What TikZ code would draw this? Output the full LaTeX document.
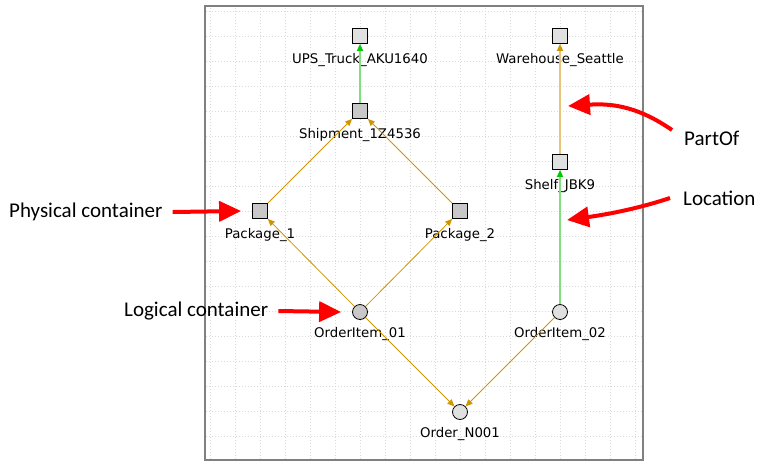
\documentclass[tikz,border=0pt]{standalone}
\usepackage{fontspec}
\setmainfont{DejaVu Sans}
\newfontfamily\notefont{Carlito}
\usetikzlibrary{arrows.meta}

\definecolor{partgold}{RGB}{205,150,0}
\definecolor{partlight}{RGB}{232,196,120}
\definecolor{locline}{RGB}{128,224,128}
\definecolor{loctip}{RGB}{0,200,0}
\definecolor{boxdark}{RGB}{200,200,200}
\definecolor{boxlight}{RGB}{224,224,224}
\definecolor{gridgray}{RGB}{218,218,218}
\definecolor{framegray}{RGB}{128,128,128}

\begin{document}
\begin{tikzpicture}[x=1pt,y=-1pt,
  lbl/.style={font=\fontsize{13.3}{15}\selectfont, inner sep=0pt, anchor=base, yshift=-20pt},
  dotlbl/.style={font=\fontsize{13.3}{15}\selectfont, inner sep=0pt, anchor=base, yshift=-18pt},
  box/.style={draw=black, line width=0.8pt, minimum size=15pt, inner sep=0pt},
  dot/.style={circle, draw=black, line width=0.8pt, minimum size=15pt, inner sep=0pt},
  partof/.style={draw=partgold, line width=0.8pt, -{Triangle[length=7pt,width=6pt,color=partgold]}},
  partofthick/.style={draw=partlight, line width=2pt, -{Triangle[length=7pt,width=6pt,color=partgold]}},
  loc/.style={draw=locline, line width=2pt, -{Triangle[length=7pt,width=6pt,color=loctip]}},
  note/.style={font=\notefont\fontsize{21}{25}\selectfont, inner sep=0pt, anchor=west},
  redarr/.style={draw=red, line width=4pt, -{Triangle[length=22pt,width=20pt]}}]

  \useasboundingbox (0,0) rectangle (773,475);

  % Grid
  \foreach \gx in {210,235,...,635} {
    \draw[gridgray, line width=1pt, dash pattern=on 1pt off 2pt] (\gx,8) -- (\gx,459);
  }
  \foreach \gy in {11,36,...,436} {
    \draw[gridgray, line width=1pt, dash pattern=on 1pt off 2pt] (206,\gy) -- (642,\gy);
  }
  \draw[framegray, line width=2pt] (205,6) rectangle (643,460);

  % Physical containers
  \node[box, fill=boxlight, label={[lbl]below:UPS\_Truck\_AKU1640}] (truck) at (360,36) {};
  \node[box, fill=boxdark, label={[lbl]below:Shipment\_1Z4536}] (ship) at (360,111) {};
  \node[box, fill=boxdark, label={[lbl]below:Package\_1}] (pkg1) at (260,211) {};
  \node[box, fill=boxdark, label={[lbl]below:Package\_2}] (pkg2) at (460,211) {};
  \node[box, fill=boxlight, label={[lbl]below:Warehouse\_Seattle}] (wh) at (560,36) {};
  \node[box, fill=boxlight, label={[lbl]below:Shelf\_JBK9}] (shelf) at (560,162) {};

  % Logical containers
  \node[dot, fill=boxdark, label={[dotlbl]below:OrderItem\_01}] (item1) at (360,312) {};
  \node[dot, fill=boxlight, label={[dotlbl]below:OrderItem\_02}] (item2) at (560,312) {};
  \node[dot, fill=boxlight, label={[dotlbl]below:Order\_N001}] (order) at (460,412) {};

  % PartOf edges
  \draw[partof] (pkg1) -- (ship);
  \draw[partof] (pkg2) -- (ship);
  \draw[partof] (item1) -- (pkg1);
  \draw[partof] (item1) -- (pkg2);
  \draw[partof] (item1) -- (order);
  \draw[partof] (item2) -- (order);
  \draw[partofthick] (shelf) -- (wh);

  % Location edges
  \draw[loc] (ship) -- (truck);
  \draw[loc] (item2) -- (shelf);

  % Annotations
  \node[note] (physnote) at (9,212) {Physical container};
  \node[note] (loginote) at (124,311) {Logical container};
  \node[note] (partnote) at (684,138) {PartOf};
  \node[note] (locnote) at (683,198) {Location};
  \coordinate (partpt) at (568,106);
  \coordinate (locpt) at (567,220);

  \draw[redarr] ([xshift=10pt]physnote.east) -- ([xshift=-11pt]pkg1.west);
  \draw[redarr] ([xshift=10pt]loginote.east) -- ([xshift=-11pt]item1.west);
  \draw[redarr] ([xshift=-12pt,yshift=8pt]partnote.west) .. controls (640,108) and (615,103) .. (partpt);
  \draw[redarr] ([xshift=-13pt]locnote.west) .. controls (640,208) and (610,214) .. (locpt);
\end{tikzpicture}
\end{document}
